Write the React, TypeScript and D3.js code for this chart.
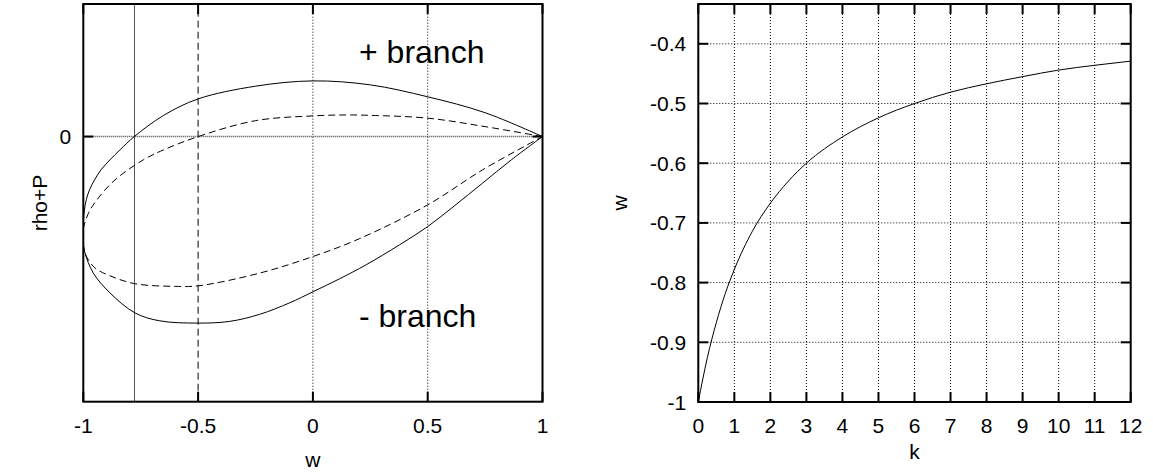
import React, { useEffect, useRef } from 'react';
import * as d3 from 'd3';

// left panel: rho+P against w, two loops (solid / dashed), upper and lower branch
const solidUpper: [number, number][] = [
  [1, 0], [0.75, 0.18], [0.5, 0.3], [0.25, 0.39], [0, 0.42], [-0.25, 0.38],
  [-0.5, 0.284], [-0.65, 0.16], [-0.778, 0], [-0.84, -0.1], [-0.884, -0.176],
  [-0.923, -0.251], [-0.951, -0.327], [-0.973, -0.402], [-0.987, -0.477],
  [-0.995, -0.553], [-0.999, -0.628], [-1, -0.688],
];
const solidLower: [number, number][] = [
  [-1, -0.815], [-0.993, -0.877], [-0.957, -1.028], [-0.884, -1.179], [-0.775, -1.33],
  [-0.667, -1.39], [-0.5, -1.407], [-0.362, -1.394], [-0.232, -1.341], [-0.101, -1.254],
  [0, -1.171], [0.116, -1.073], [0.232, -0.967], [0.377, -0.817], [0.5, -0.679],
  [0.616, -0.523], [0.739, -0.351], [0.864, -0.176], [1, 0],
];
const dashedUpper: [number, number][] = [
  [1, 0], [0.75, 0.075], [0.5, 0.139], [0.25, 0.16], [0.15, 0.163], [0, 0.156],
  [-0.25, 0.12], [-0.5, 0], [-0.65, -0.1], [-0.739, -0.176], [-0.862, -0.327],
  [-0.942, -0.48], [-0.978, -0.58], [-1, -0.7],
];
const dashedLower: [number, number][] = [
  [-1, -0.8], [-0.99, -0.89], [-0.95, -0.99], [-0.884, -1.05], [-0.775, -1.11],
  [-0.6, -1.13], [-0.5, -1.126], [-0.232, -1.03], [0, -0.905], [0.203, -0.77],
  [0.5, -0.515], [0.74, -0.25], [1, 0],
];
const solidMarkW = -0.777;
const dashedMarkW = -0.5;

// right panel: w against k
const kValues = [0, 0.25, 0.5, 0.75, 1, 1.5, 2, 2.5, 3, 4, 5, 6, 7, 8, 9, 10, 11, 12];
const wValues = [-1, -0.926, -0.867, -0.818, -0.778, -0.714, -0.667, -0.63, -0.6, -0.556,
  -0.524, -0.5, -0.481, -0.467, -0.455, -0.444, -0.436, -0.429];

const leftTicksX = [-1, -0.5, 0, 0.5, 1];
const leftTicksY = [0];
const leftGridX = [0, 0.5];
const rightTicksX = [0, 1, 2, 3, 4, 5, 6, 7, 8, 9, 10, 11, 12];
const rightTicksY = [-1, -0.9, -0.8, -0.7, -0.6, -0.5, -0.4];

const FONT = 'Liberation Sans, Arial, sans-serif';

export default function App() {
  const ref = useRef<SVGSVGElement>(null);

  useEffect(() => {
    const svg = d3.select(ref.current);
    svg.selectAll('*').remove();
    const TL = 10;

    function grid(g: any, x: any, y: any, gx: number[], gy: number[]) {
      const [xa, xb] = x.range();
      const [ya, yb] = y.range();
      g.append('g').selectAll('line').data(gx).join('line')
        .attr('x1', (d: number) => x(d)).attr('x2', (d: number) => x(d))
        .attr('y1', ya).attr('y2', yb)
        .attr('stroke', '#000').attr('stroke-width', 1).attr('stroke-dasharray', '1,2');
      g.append('g').selectAll('line').data(gy).join('line')
        .attr('x1', xa).attr('x2', xb)
        .attr('y1', (d: number) => y(d)).attr('y2', (d: number) => y(d))
        .attr('stroke', '#000').attr('stroke-width', 1).attr('stroke-dasharray', '1,2');
    }

    function axes(g: any, x: any, y: any, tx: number[], ty: number[]) {
      const [xa, xb] = x.range();
      const [ya, yb] = y.range(); // ya bottom, yb top
      const tk = g.append('g').attr('stroke', '#000').attr('stroke-width', 2);
      tx.forEach((d) => {
        tk.append('line').attr('x1', x(d)).attr('x2', x(d)).attr('y1', ya).attr('y2', ya - TL);
        tk.append('line').attr('x1', x(d)).attr('x2', x(d)).attr('y1', yb).attr('y2', yb + TL);
      });
      ty.forEach((d) => {
        tk.append('line').attr('y1', y(d)).attr('y2', y(d)).attr('x1', xa).attr('x2', xa + TL);
        tk.append('line').attr('y1', y(d)).attr('y2', y(d)).attr('x1', xb).attr('x2', xb - TL);
      });
      g.append('rect').attr('x', xa).attr('y', yb).attr('width', xb - xa).attr('height', ya - yb)
        .attr('fill', 'none').attr('stroke', '#000').attr('stroke-width', 2);
      g.append('g').selectAll('text').data(tx).join('text')
        .attr('x', (d: number) => x(d)).attr('y', ya + 31)
        .attr('text-anchor', 'middle').attr('font-family', FONT).attr('font-size', 21)
        .text((d: number) => String(d));
      g.append('g').selectAll('text').data(ty).join('text')
        .attr('x', xa - 12).attr('y', (d: number) => y(d) + 7.5)
        .attr('text-anchor', 'end').attr('font-family', FONT).attr('font-size', 21)
        .text((d: number) => String(d));
    }

    // ---- left panel
    const xL = d3.scaleLinear().domain([-1, 1]).range([83.3, 542.5]);
    const yL = d3.scaleLinear().domain([-2, 1]).range([401.7, 4]);
    const gl = svg.append('g');
    svg.append('clipPath').attr('id', 'clipL').append('rect')
      .attr('x', xL(-1)).attr('y', yL(1)).attr('width', xL(1) - xL(-1)).attr('height', yL(-2) - yL(1));
    grid(gl, xL, yL, leftGridX, []);
    gl.append('line').attr('x1', xL(-1)).attr('x2', xL(1)).attr('y1', yL(0)).attr('y2', yL(0))
      .attr('stroke', '#444').attr('stroke-width', 1.6).attr('stroke-dasharray', '1,1');
    gl.append('line').attr('x1', xL(solidMarkW)).attr('x2', xL(solidMarkW))
      .attr('y1', yL(-2)).attr('y2', yL(1)).attr('stroke', '#555').attr('stroke-width', 1);
    gl.append('line').attr('x1', xL(dashedMarkW)).attr('x2', xL(dashedMarkW))
      .attr('y1', yL(-2)).attr('y2', yL(1)).attr('stroke', '#000').attr('stroke-width', 1)
      .attr('stroke-dasharray', '7,4');

    const loop = d3.line<[number, number]>()
      .x((d) => xL(d[0])).y((d) => yL(d[1]))
      .curve(d3.curveCatmullRom.alpha(0.5));
    const curves = gl.append('g').attr('clip-path', 'url(#clipL)');
    curves.append('path').attr('d', loop(solidUpper.concat(solidLower)))
      .attr('fill', 'none').attr('stroke', '#000').attr('stroke-width', 1);
    curves.append('path').attr('d', loop(dashedUpper.concat(dashedLower)))
      .attr('fill', 'none').attr('stroke', '#000').attr('stroke-width', 1)
      .attr('stroke-dasharray', '7,4');
    axes(gl, xL, yL, leftTicksX, leftTicksY);

    gl.append('text').attr('x', 359).attr('y', 63).attr('font-family', FONT).attr('font-size', 32)
      .text('+ branch');
    gl.append('text').attr('x', 359).attr('y', 327).attr('font-family', FONT).attr('font-size', 32)
      .text('- branch');
    gl.append('text').attr('x', xL(0)).attr('y', 467).attr('text-anchor', 'middle')
      .attr('font-family', FONT).attr('font-size', 21).text('w');
    gl.append('text').attr('transform', 'translate(47,203) rotate(-90)').attr('text-anchor', 'middle')
      .attr('font-family', FONT).attr('font-size', 21).text('rho+P');

    // ---- right panel
    const xR = d3.scaleLinear().domain([0, 12]).range([698.3, 1130.7]);
    const yR = d3.scaleLinear().domain([-1, -1 / 3]).range([402, 4]);
    const gr = svg.append('g');
    grid(gr, xR, yR, rightTicksX, rightTicksY);
    const curve = d3.line<number>()
      .x((d, i) => xR(kValues[i])).y((d) => yR(d))
      .curve(d3.curveMonotoneX);
    gr.append('path').attr('d', curve(wValues))
      .attr('fill', 'none').attr('stroke', '#000').attr('stroke-width', 1);
    axes(gr, xR, yR, rightTicksX, rightTicksY);
    gr.append('text').attr('x', (xR(0) + xR(12)) / 2).attr('y', 459).attr('text-anchor', 'middle')
      .attr('font-family', FONT).attr('font-size', 21).text('k');
    gr.append('text').attr('transform', 'translate(627,203) rotate(-90)').attr('text-anchor', 'middle')
      .attr('font-family', FONT).attr('font-size', 21).text('w');
  }, []);

  return (
    <svg ref={ref} width={1153} height={472}
      style={{ position: 'absolute', left: 0, top: 0, background: '#fff' }} />
  );
}
